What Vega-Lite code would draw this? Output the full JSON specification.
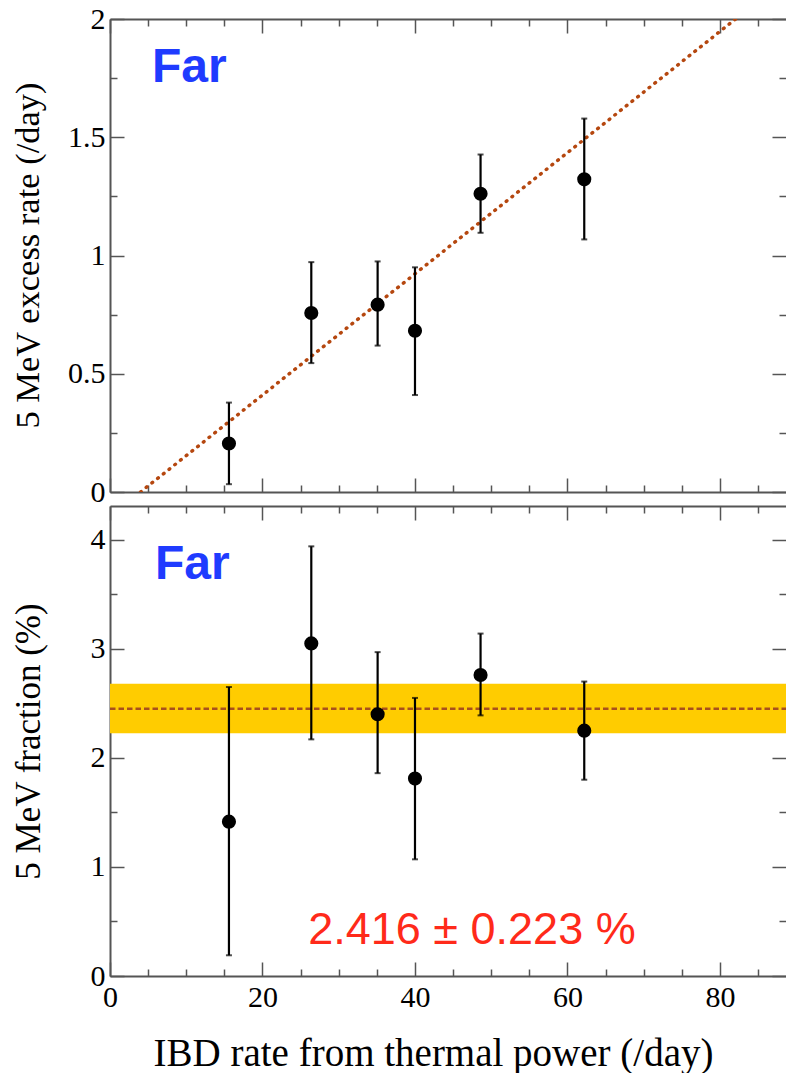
{
  "$schema": "https://vega.github.io/schema/vega-lite/v6.json",
  "padding": {"left": 9, "top": 4, "right": 0, "bottom": 0},
  "spacing": 14,
  "bounds": "flush",
  "datasets": {
    "rate": [
      {"x": 15.6, "y": 0.205, "lo": 0.033, "hi": 0.378},
      {"x": 26.4, "y": 0.757, "lo": 0.545, "hi": 0.972},
      {"x": 35.1, "y": 0.792, "lo": 0.619, "hi": 0.975},
      {"x": 40.0, "y": 0.682, "lo": 0.410, "hi": 0.950},
      {"x": 48.6, "y": 1.261, "lo": 1.096, "hi": 1.427},
      {"x": 62.2, "y": 1.322, "lo": 1.068, "hi": 1.579}
    ],
    "frac": [
      {"x": 15.6, "y": 1.415, "lo": 0.19, "hi": 2.65},
      {"x": 26.4, "y": 3.05, "lo": 2.17, "hi": 3.94},
      {"x": 35.1, "y": 2.40, "lo": 1.86, "hi": 2.97},
      {"x": 40.0, "y": 1.81, "lo": 1.07, "hi": 2.55},
      {"x": 48.6, "y": 2.76, "lo": 2.39, "hi": 3.14},
      {"x": 62.2, "y": 2.25, "lo": 1.80, "hi": 2.70}
    ],
    "fit": [{"x": 4.0, "y": 0}, {"x": 82.05, "y": 2}],
    "mean": [{"x": 0, "y": 2.45}, {"x": 88.66, "y": 2.45}],
    "band": [{"lo": 2.225, "hi": 2.68}],
    "labTop": [{"x": 5.5, "y": 1.733, "label": "Far"}],
    "labBot": [{"x": 5.9, "y": 3.64, "label": "Far"}],
    "result": [{"x": 26.0, "y": 0.29, "label": "2.416 ± 0.223 %"}]
  },
  "vconcat": [
    {
      "width": 676,
      "height": 473,
      "resolve": {"axis": {"x": "independent", "y": "independent"}},
      "layer": [
        {
          "data": {"name": "fit"},
          "mark": {"type": "line", "color": "#b5470f", "strokeWidth": 3.5, "strokeDash": [0.8, 6.5], "strokeCap": "round", "clip": true},
          "encoding": {
            "x": {"field": "x", "type": "quantitative", "scale": {"domain": [0, 88.66], "nice": false, "zero": false},
              "axis": {"orient": "bottom", "values": [0, 20, 40, 60, 80], "labels": false, "tickSize": -14, "title": null}},
            "y": {"field": "y", "type": "quantitative", "scale": {"domain": [0, 2], "nice": false, "zero": false},
              "axis": {"orient": "left", "values": [0, 0.5, 1, 1.5, 2], "format": "~g", "tickSize": -14, "labelPadding": 19,
                "title": "5 MeV excess rate (/day)", "titleFontSize": 34.5, "titleX": -82, "titleY": 236, "titleAngle": 270, "titleAlign": "center", "titleBaseline": "middle"}}
          }
        },
        {
          "data": {"name": "rate"},
          "mark": {"type": "rule", "color": "#000", "strokeWidth": 2.2},
          "encoding": {
            "x": {"field": "x", "type": "quantitative", "scale": {"domain": [0, 88.66], "nice": false, "zero": false},
              "axis": {"orient": "bottom", "values": [5, 10, 15, 25, 30, 35, 45, 50, 55, 65, 70, 75, 85], "labels": false, "domain": false, "tickSize": -7, "title": null}},
            "y": {"field": "lo", "type": "quantitative", "scale": {"domain": [0, 2], "nice": false, "zero": false},
              "axis": {"orient": "left", "values": [0.25, 0.75, 1.25, 1.75], "labels": false, "domain": false, "tickSize": -7, "title": null}},
            "y2": {"field": "hi"}
          }
        },
        {
          "data": {"name": "rate"},
          "mark": {"type": "tick", "orient": "horizontal", "color": "#000", "size": 6, "thickness": 2},
          "encoding": {
            "x": {"field": "x", "type": "quantitative", "scale": {"domain": [0, 88.66], "nice": false, "zero": false},
              "axis": {"orient": "top", "values": [0, 20, 40, 60, 80], "labels": false, "tickSize": -14, "title": null}},
            "y": {"field": "lo", "type": "quantitative", "scale": {"domain": [0, 2], "nice": false, "zero": false},
              "axis": {"orient": "right", "values": [0, 0.5, 1, 1.5, 2], "labels": false, "domain": false, "tickSize": -14, "title": null}}
          }
        },
        {
          "data": {"name": "rate"},
          "mark": {"type": "tick", "orient": "horizontal", "color": "#000", "size": 6, "thickness": 2},
          "encoding": {
            "x": {"field": "x", "type": "quantitative", "scale": {"domain": [0, 88.66], "nice": false, "zero": false},
              "axis": {"orient": "top", "values": [5, 10, 15, 25, 30, 35, 45, 50, 55, 65, 70, 75, 85], "labels": false, "domain": false, "tickSize": -7, "title": null}},
            "y": {"field": "hi", "type": "quantitative", "scale": {"domain": [0, 2], "nice": false, "zero": false},
              "axis": {"orient": "right", "values": [0.25, 0.75, 1.25, 1.75], "labels": false, "domain": false, "tickSize": -7, "title": null}}
          }
        },
        {
          "data": {"name": "rate"},
          "mark": {"type": "circle", "color": "#000", "opacity": 1, "size": 200},
          "encoding": {
            "x": {"field": "x", "type": "quantitative", "axis": null},
            "y": {"field": "y", "type": "quantitative", "axis": null}
          }
        },
        {
          "data": {"name": "labTop"},
          "mark": {"type": "text", "font": "Liberation Sans", "fontWeight": "bold", "fontSize": 48, "color": "#1f3bff", "align": "left", "baseline": "alphabetic"},
          "encoding": {
            "x": {"field": "x", "type": "quantitative", "axis": null},
            "y": {"field": "y", "type": "quantitative", "axis": null},
            "text": {"field": "label"}
          }
        }
      ]
    },
    {
      "width": 676,
      "height": 470,
      "resolve": {"axis": {"x": "independent", "y": "independent"}},
      "layer": [
        {
          "data": {"name": "band"},
          "mark": {"type": "rect", "color": "#ffcc00", "opacity": 1},
          "encoding": {
            "y": {"field": "lo", "type": "quantitative", "scale": {"domain": [0, 4.31], "nice": false, "zero": false}, "axis": null},
            "y2": {"field": "hi"}
          }
        },
        {
          "data": {"name": "mean"},
          "mark": {"type": "line", "color": "#a8501c", "strokeWidth": 2.5, "strokeDash": [5.5, 3]},
          "encoding": {
            "x": {"field": "x", "type": "quantitative", "scale": {"domain": [0, 88.66], "nice": false, "zero": false},
              "axis": {"orient": "bottom", "values": [0, 20, 40, 60, 80], "labelPadding": 20, "tickSize": -14,
                "title": "IBD rate from thermal power (/day)", "titleX": 323, "titleY": 89, "titleAlign": "center", "titleBaseline": "alphabetic", "titleFontSize": 39}},
            "y": {"field": "y", "type": "quantitative", "scale": {"domain": [0, 4.31], "nice": false, "zero": false},
              "axis": {"orient": "left", "values": [0, 1, 2, 3, 4], "format": "~g", "tickSize": -14, "labelPadding": 19,
                "title": "5 MeV fraction (%)", "titleFontSize": 35, "titleX": -82, "titleY": 235, "titleAngle": 270, "titleAlign": "center", "titleBaseline": "middle"}}
          }
        },
        {
          "data": {"name": "frac"},
          "mark": {"type": "rule", "color": "#000", "strokeWidth": 2.2},
          "encoding": {
            "x": {"field": "x", "type": "quantitative", "scale": {"domain": [0, 88.66], "nice": false, "zero": false},
              "axis": {"orient": "bottom", "values": [5, 10, 15, 25, 30, 35, 45, 50, 55, 65, 70, 75, 85], "labels": false, "domain": false, "tickSize": -7, "title": null}},
            "y": {"field": "lo", "type": "quantitative", "scale": {"domain": [0, 4.31], "nice": false, "zero": false},
              "axis": {"orient": "left", "values": [0.5, 1.5, 2.5, 3.5], "labels": false, "domain": false, "tickSize": -7, "title": null}},
            "y2": {"field": "hi"}
          }
        },
        {
          "data": {"name": "frac"},
          "mark": {"type": "tick", "orient": "horizontal", "color": "#000", "size": 6, "thickness": 2},
          "encoding": {
            "x": {"field": "x", "type": "quantitative", "scale": {"domain": [0, 88.66], "nice": false, "zero": false},
              "axis": {"orient": "top", "values": [0, 20, 40, 60, 80], "labels": false, "tickSize": -14, "title": null}},
            "y": {"field": "lo", "type": "quantitative", "scale": {"domain": [0, 4.31], "nice": false, "zero": false},
              "axis": {"orient": "right", "values": [0, 1, 2, 3, 4], "labels": false, "domain": false, "tickSize": -14, "title": null}}
          }
        },
        {
          "data": {"name": "frac"},
          "mark": {"type": "tick", "orient": "horizontal", "color": "#000", "size": 6, "thickness": 2},
          "encoding": {
            "x": {"field": "x", "type": "quantitative", "scale": {"domain": [0, 88.66], "nice": false, "zero": false},
              "axis": {"orient": "top", "values": [5, 10, 15, 25, 30, 35, 45, 50, 55, 65, 70, 75, 85], "labels": false, "domain": false, "tickSize": -7, "title": null}},
            "y": {"field": "hi", "type": "quantitative", "scale": {"domain": [0, 4.31], "nice": false, "zero": false},
              "axis": {"orient": "right", "values": [0.5, 1.5, 2.5, 3.5], "labels": false, "domain": false, "tickSize": -7, "title": null}}
          }
        },
        {
          "data": {"name": "frac"},
          "mark": {"type": "circle", "color": "#000", "opacity": 1, "size": 200},
          "encoding": {
            "x": {"field": "x", "type": "quantitative", "axis": null},
            "y": {"field": "y", "type": "quantitative", "axis": null}
          }
        },
        {
          "data": {"name": "labBot"},
          "mark": {"type": "text", "font": "Liberation Sans", "fontWeight": "bold", "fontSize": 48, "color": "#1f3bff", "align": "left", "baseline": "alphabetic"},
          "encoding": {
            "x": {"field": "x", "type": "quantitative", "axis": null},
            "y": {"field": "y", "type": "quantitative", "axis": null},
            "text": {"field": "label"}
          }
        },
        {
          "data": {"name": "result"},
          "mark": {"type": "text", "font": "Liberation Sans", "fontSize": 45, "color": "#ff2a1a", "align": "left", "baseline": "alphabetic"},
          "encoding": {
            "x": {"field": "x", "type": "quantitative", "axis": null},
            "y": {"field": "y", "type": "quantitative", "axis": null},
            "text": {"field": "label"}
          }
        }
      ]
    }
  ],
  "config": {
    "view": {"stroke": null},
    "axis": {
      "grid": false,
      "labelFont": "Liberation Serif",
      "labelFontSize": 30,
      "labelColor": "#000",
      "labelFlush": false,
      "labelOverlap": false,
      "titleFont": "Liberation Serif",
      "titleFontSize": 37,
      "titleFontWeight": "normal",
      "titleColor": "#000",
      "domainColor": "#555",
      "domainWidth": 2,
      "tickColor": "#555",
      "tickWidth": 1.5
    }
  }
}
